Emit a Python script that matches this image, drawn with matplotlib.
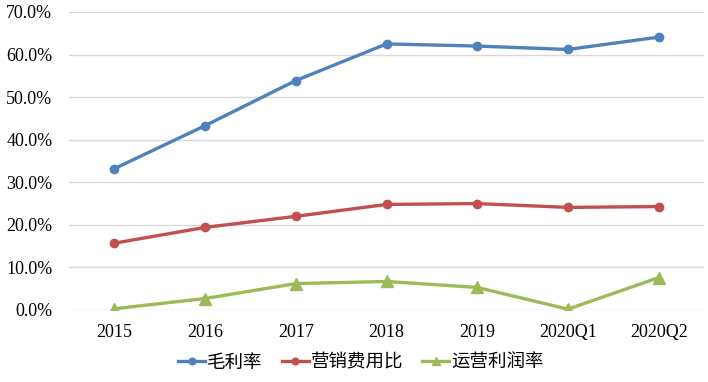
import matplotlib
matplotlib.use("Agg")
import matplotlib.pyplot as plt
from matplotlib.ticker import FuncFormatter

categories = ["2015", "2016", "2017", "2018", "2019", "2020Q1", "2020Q2"]
gross_margin = [0.332, 0.433, 0.539, 0.625, 0.620, 0.612, 0.641]
marketing_ratio = [0.157, 0.194, 0.220, 0.248, 0.250, 0.241, 0.243]
operating_margin = [0.003, 0.027, 0.062, 0.067, 0.053, 0.002, 0.076]
series_names = ["毛利率", "营销费用比", "运营利润率"]
yticks = [0.0, 0.1, 0.2, 0.3, 0.4, 0.5, 0.6, 0.7]

plt.rcParams['font.family'] = ['Liberation Serif', 'Noto Sans CJK SC']

fig = plt.figure(figsize=(7.08, 3.82), dpi=100)
W, H = 708, 382
ax = fig.add_axes([69 / W, 1 - 310 / H, (704 - 69) / W, (310 - 12) / H])

x = list(range(len(categories)))
ax.plot(x, gross_margin, color="#4F81BD", lw=2.4, marker="o", ms=6, label=series_names[0], zorder=3)
ax.plot(x, marketing_ratio, color="#C0504D", lw=2.4, marker="o", ms=6, label=series_names[1], zorder=3)
ax.plot(x, operating_margin, color="#9BBB59", lw=2.4, marker="^", ms=8, label=series_names[2], zorder=3)

ax.set_xlim(-0.5, len(categories) - 0.5)
ax.set_ylim(0, 0.7)
ax.set_yticks(yticks)
ax.yaxis.set_major_formatter(FuncFormatter(lambda v, p: f"{v*100:.1f}%"))
ax.set_xticks(x)
ax.set_xticklabels(categories)
ax.grid(axis="y", color="#D9D9D9", lw=1)
ax.set_axisbelow(True)
for s in ax.spines.values():
    s.set_visible(False)
ax.tick_params(axis="both", length=0, labelsize=13)
ax.tick_params(axis="y", pad=12)
ax.tick_params(axis="x", pad=10)

leg = fig.legend(loc="center", bbox_to_anchor=(361 / W, 1 - 363 / H), ncol=3,
                 frameon=False, fontsize=13.3, handlelength=1.45, handletextpad=0.1,
                 columnspacing=1.05, borderaxespad=0, markerscale=0.8)

fig.savefig("out.png", dpi=100)
